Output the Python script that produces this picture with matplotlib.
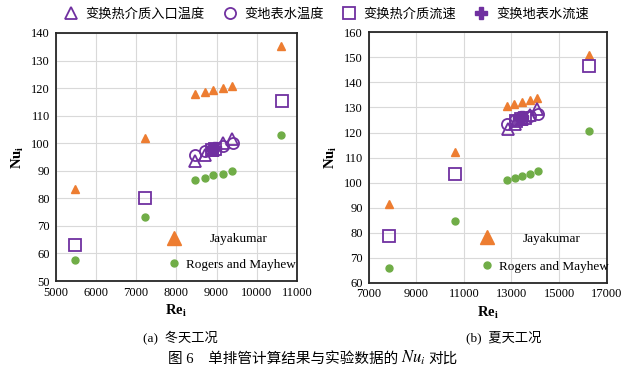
import numpy as np
import matplotlib
matplotlib.use('Agg')
import matplotlib.pyplot as plt
from matplotlib.lines import Line2D

plt.rcParams['font.family'] = ['Liberation Serif', 'Noto Sans CJK SC', 'DejaVu Sans']
plt.rcParams['mathtext.fontset'] = 'stix'

# ---- data ----
# (a) winter
w_jay_re = [5480, 7220, 8470, 8720, 8920, 9160, 9390, 10610]
w_jay_nu = [83.5, 102.0, 117.8, 118.5, 119.3, 120.0, 120.7, 135.4]
w_rm_re = [5490, 7210, 8470, 8720, 8900, 9160, 9390, 10600]
w_rm_nu = [57.8, 73.2, 86.6, 87.4, 88.3, 88.9, 90.0, 102.9]
w_tin_re = [8470, 8720, 8920, 9160, 9390]
w_tin_nu = [93.5, 95.7, 97.5, 100.0, 101.7]
w_tw_re = [8470, 8720, 8920, 9160, 9400]
w_tw_nu = [95.8, 97.0, 98.0, 99.1, 99.9]
w_vin_re = [5490, 7210, 8880, 8950, 10620]
w_vin_nu = [63.1, 80.2, 97.7, 98.0, 115.3]
w_vw_re = [8880, 8950]
w_vw_nu = [97.8, 98.2]

# (b) summer
s_jay_re = [7850, 10610, 12820, 13120, 13440, 13760, 14070, 16240]
s_jay_nu = [91.4, 112.3, 130.5, 131.2, 132.2, 133.0, 133.6, 150.9]
s_rm_re = [7840, 10630, 12820, 13130, 13440, 13760, 14100, 16270]
s_rm_nu = [65.8, 84.5, 100.9, 101.7, 102.7, 103.5, 104.5, 120.5]
s_tin_re = [12850, 13150, 13450, 13760, 14070]
s_tin_nu = [121.3, 123.4, 125.2, 127.0, 129.5]
s_tw_re = [12800, 13130, 13450, 13760, 14100]
s_tw_nu = [123.5, 124.9, 125.8, 126.6, 127.4]
s_vin_re = [7850, 10610, 13200, 13400, 13550, 16240]
s_vin_nu = [78.5, 103.3, 124.6, 125.4, 125.8, 146.4]
s_vw_re = [13300, 13450]
s_vw_nu = [125.8, 126.0]

labels = ['变换热介质入口温度', '变地表水温度', '变换热介质流速', '变换地表水流速']
orange = '#ED7D31'
green = '#70AD47'
purple = '#7030A0'

fig = plt.figure(figsize=(6.27, 3.72), dpi=100)
ax1 = fig.add_axes([0.0888, 0.2446, 0.3849, 0.6667])
ax2 = fig.add_axes([0.588, 0.240, 0.3796, 0.673])


def draw(ax, d, xlim, xticks, ylim, yticks, leg_x, leg_y):
    (jre, jnu, rre, rnu, tre, tnu, wre, wnu, vre, vnu, pre, pnu) = d
    ax.grid(True, color='#D9D9D9', lw=0.8, zorder=0)
    ax.plot(jre, jnu, ls='none', marker='^', ms=6, color=orange, zorder=3)
    ax.plot(rre, rnu, ls='none', marker='o', ms=5, color=green, zorder=3)
    ax.plot(tre, tnu, ls='none', marker='^', ms=8, mfc='none', mec=purple, mew=1.3, zorder=4)
    ax.plot(wre, wnu, ls='none', marker='o', ms=8, mfc='none', mec=purple, mew=1.3, zorder=4)
    ax.plot(vre, vnu, ls='none', marker='s', ms=8, mfc='none', mec=purple, mew=1.3, zorder=4)
    ax.plot(pre, pnu, ls='none', marker='P', ms=8, color=purple, zorder=5)
    ax.set_xlim(*xlim)
    ax.set_ylim(*ylim)
    ax.set_xticks(xticks)
    ax.set_yticks(yticks)
    ax.tick_params(length=0, labelsize=9, pad=4)
    for s in ax.spines.values():
        s.set_color('#262626')
        s.set_linewidth(1.3)
    ax.set_xlabel('Re$_\\mathregular{i}$', fontsize=10.5, fontweight='bold', labelpad=3)
    ax.set_ylabel('Nu$_\\mathregular{i}$', fontsize=10.5, fontweight='bold', labelpad=4)

    h1 = [Line2D([], [], ls='none', marker='^', ms=10, color=orange)]
    h2 = [Line2D([], [], ls='none', marker='o', ms=5, color=green)]
    l1 = ax.legend(h1, ['Jayakumar'], loc='center left', bbox_to_anchor=(leg_x, leg_y[0]),
                   frameon=False, fontsize=9.5, borderpad=0, borderaxespad=0,
                   handlelength=1, handletextpad=2.2)
    ax.add_artist(l1)
    ax.legend(h2, ['Rogers and Mayhew'], loc='center left', bbox_to_anchor=(leg_x, leg_y[1]),
              frameon=False, fontsize=9.5, borderpad=0, borderaxespad=0,
              handlelength=1, handletextpad=0.4)


draw(ax1, (w_jay_re, w_jay_nu, w_rm_re, w_rm_nu, w_tin_re, w_tin_nu, w_tw_re, w_tw_nu,
           w_vin_re, w_vin_nu, w_vw_re, w_vw_nu),
     (5000, 11000), np.arange(5000, 11001, 1000), (50, 140), np.arange(50, 141, 10),
     0.465, (0.169, 0.065))
draw(ax2, (s_jay_re, s_jay_nu, s_rm_re, s_rm_nu, s_tin_re, s_tin_nu, s_tw_re, s_tw_nu,
           s_vin_re, s_vin_nu, s_vw_re, s_vw_nu),
     (7000, 17000), np.arange(7000, 17001, 2000), (60, 160), np.arange(60, 161, 10),
     0.47, (0.177, 0.064))

handles = [Line2D([], [], ls='none', marker='^', ms=8, mfc='none', mec=purple, mew=1.3),
           Line2D([], [], ls='none', marker='o', ms=8, mfc='none', mec=purple, mew=1.3),
           Line2D([], [], ls='none', marker='s', ms=8, mfc='none', mec=purple, mew=1.3),
           Line2D([], [], ls='none', marker='P', ms=8, color=purple)]
fig.legend(handles, labels, loc='upper center', bbox_to_anchor=(0.521, 1.01), ncol=4,
           frameon=False, fontsize=9.5, handlelength=1, handletextpad=0.6, columnspacing=1.4)

fig.text(0.287, 0.094, '(a)  冬天工况', ha='center', va='center', fontsize=9.5)
fig.text(0.804, 0.094, '(b)  夏天工况', ha='center', va='center', fontsize=9.5)

# title in three pieces so the CJK part keeps its font and Nu_i is math
mid = fig.text(0.659, 0.025, '$Nu_i$', ha='center', va='baseline', fontsize=12)
fig.canvas.draw()
bb = mid.get_window_extent()
left_x = (bb.x0 - 3) / fig.bbox.width
right_x = (bb.x1 + 3) / fig.bbox.width
base_y = 0.025
fig.text(left_x, base_y, '图 6\u3000单排管计算结果与实验数据的', ha='right', va='baseline',
         fontsize=10.5)
fig.text(right_x, base_y, '对比', ha='left', va='baseline', fontsize=10.5)

fig.savefig('out.png', dpi=100)
